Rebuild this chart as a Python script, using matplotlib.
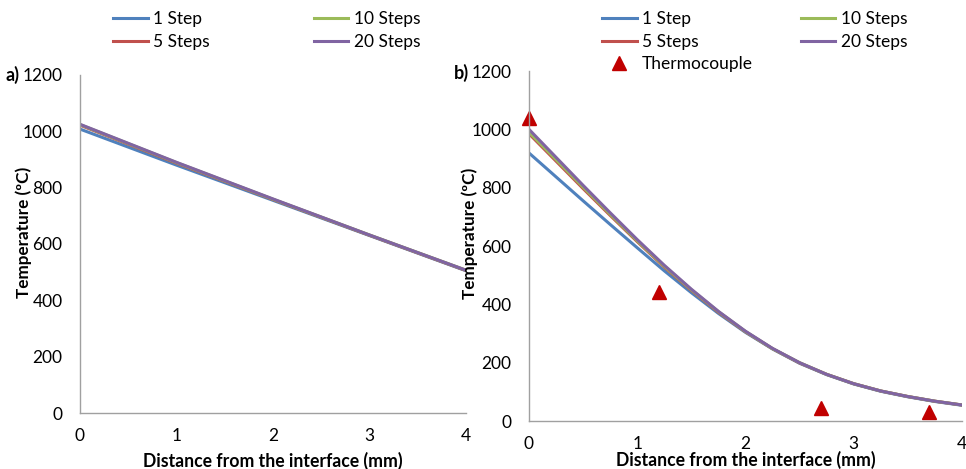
import matplotlib.pyplot as plt

plt.rcParams['font.family'] = ['Lato', 'DejaVu Sans']

# panel a) data
xa = [0, 1, 2, 3, 4]
a_1step = [1008, 880, 755, 630, 505]
a_5steps = [1022, 887, 758, 631, 506]
a_10steps = [1024, 889, 759, 632, 507]
a_20steps = [1025, 890, 760, 632, 507]

# panel b) data
xb = [0, 0.25, 0.5, 0.75, 1, 1.25, 1.5, 1.75, 2, 2.25, 2.5, 2.75, 3, 3.25, 3.5, 3.75, 4]
b_1step = [919, 837, 755, 674, 594, 515, 440, 369, 304, 247, 198, 159, 127, 102, 83, 67, 54]
b_5steps = [985, 891, 797, 705, 615, 528, 448, 373, 306, 248, 199, 160, 128, 103, 84, 68, 55]
b_10steps = [990, 896, 802, 709, 618, 531, 450, 375, 307, 248, 200, 160, 128, 103, 84, 68, 55]
b_20steps = [1000, 904, 808, 714, 622, 534, 452, 376, 308, 249, 200, 160, 128, 103, 84, 68, 55]
tc_x = [0, 1.2, 2.7, 3.7]
tc_y = [1039, 442, 45, 31]

labels = ['1 Step', '5 Steps', '10 Steps', '20 Steps']
colors = ['#4F81BD', '#C0504D', '#9BBB59', '#8064A2']

fig = plt.figure(figsize=(9.66, 4.69), dpi=100)
ax1 = fig.add_axes([0.0828, 0.1194, 0.3996, 0.7207])
ax2 = fig.add_axes([0.5476, 0.1023, 0.4482, 0.7463])


def style(ax, ylab_x, xlab_y):
    ax.set_xlim(0, 4)
    ax.set_ylim(0, 1200)
    ax.set_xticks([0, 1, 2, 3, 4])
    ax.set_yticks(range(0, 1201, 200))
    for s in ['top', 'right']:
        ax.spines[s].set_visible(False)
    for s in ['left', 'bottom']:
        ax.spines[s].set_color('#A0A0A0')
        ax.spines[s].set_linewidth(1)
    ax.tick_params(axis='y', length=0, labelsize=12.5, pad=12.5)
    ax.tick_params(axis='x', length=0, labelsize=12.5, pad=11)
    ax.set_xlabel('Distance from the interface (mm)', fontsize=12.7,
                  fontweight='bold', va='center')
    ax.xaxis.set_label_coords(0.5, xlab_y)
    ax.set_ylabel('Temperature (ºC)', fontsize=12.3, fontweight='bold')
    ax.yaxis.set_label_coords(ylab_x, 0.535)


leg_kw = dict(loc='upper left', ncol=2, frameon=False, fontsize=12.5,
              handlelength=2.0, handletextpad=0.3,
              labelspacing=0.38, borderpad=0, borderaxespad=0,
              bbox_transform=fig.transFigure)

for ys, lab, c in zip([a_1step, a_5steps, a_10steps, a_20steps], labels, colors):
    ax1.plot(xa, ys, color=c, lw=2.2, label=lab)
style(ax1, -0.125, -0.141)
ax1.legend(bbox_to_anchor=(113 / 966, 1 - 11 / 469), columnspacing=6.0, **leg_kw)

for ys, lab, c in zip([b_1step, b_5steps, b_10steps, b_20steps], labels, colors):
    ax2.plot(xb, ys, color=c, lw=2.2, label=lab)
ax2.plot(tc_x, tc_y, linestyle='none', marker='^', markersize=10,
         color='#C00000', label='Thermocouple', clip_on=False)
style(ax2, -0.118, -0.111)
h, l = ax2.get_legend_handles_labels()
order = [0, 1, 4, 2, 3]
ax2.legend([h[i] for i in order], [l[i] for i in order],
           bbox_to_anchor=(602 / 966, 1 - 11 / 469), columnspacing=2.75, **leg_kw)

fig.text(6 / 966, 1 - 75 / 469, 'a)', fontsize=13, fontweight='bold', va='center')
fig.text(454 / 966, 1 - 73 / 469, 'b)', fontsize=13, fontweight='bold', va='center')

fig.savefig('out.png', dpi=100)
